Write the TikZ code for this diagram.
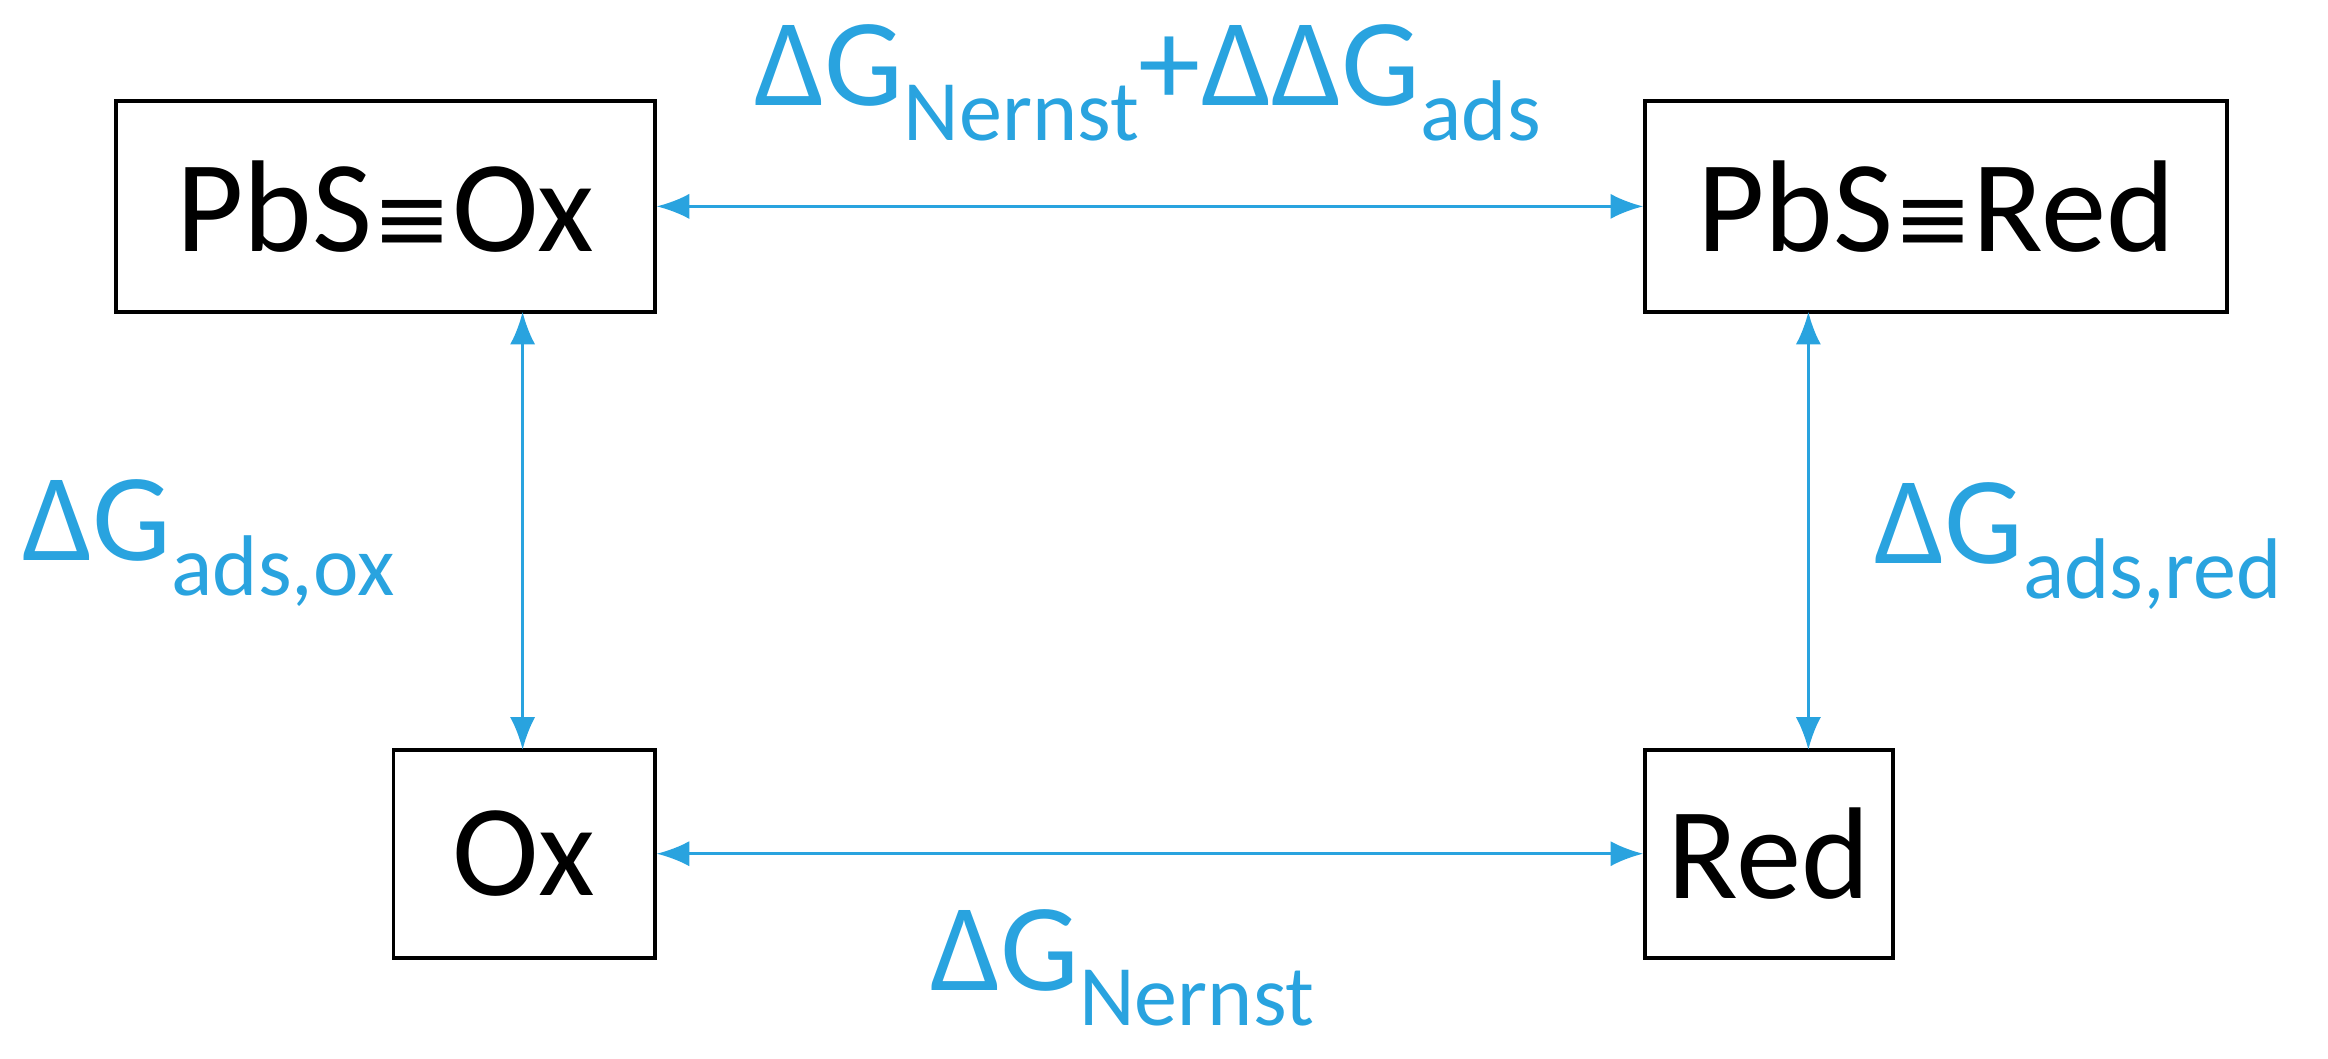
\documentclass[tikz,border=0pt]{standalone}
\usepackage{fontspec}
\setmainfont{Carlito}
\newfontfamily\dvs{DejaVu Sans}
\definecolor{lb}{HTML}{29A3DF}
\newcommand{\sbx}[1]{\raisebox{-0.28em}{\fontsize{58}{62}\selectfont #1}}
\begin{document}
\begin{tikzpicture}[x=1pt,y=-1pt,
  box/.style={draw,line width=2.5pt,inner sep=0pt,font=\fontsize{88}{92}\selectfont},
  arr/.style={lb,line width=2pt,{Latex[length=22pt,width=17pt]}-{Latex[length=22pt,width=17pt]}},
  lab/.style={lb,font=\fontsize{84}{88}\selectfont,inner sep=0pt}]
\usetikzlibrary{arrows.meta}
\useasboundingbox (0,0) rectangle (1568,713);
\node[box,minimum width=363pt,minimum height=142pt] (a) at (259.5,139) {PbS{\dvs\fontsize{64}{64}\selectfont≡}Ox};
\node[box,minimum width=392pt,minimum height=142pt] (b) at (1304,139) {PbS{\dvs\fontsize{64}{64}\selectfont≡}Red};
\node[box,minimum width=176pt,minimum height=140pt] (c) at (353,575) {Ox};
\node[box,minimum width=167pt,minimum height=140pt] (d) at (1191.5,575) {Red};
\coordinate (a1) at (352,210); \coordinate (c1) at (352,505);
\coordinate (b1) at (1218,210); \coordinate (d1) at (1218,505);
\draw[arr] (a.east) -- (b.west);
\draw[arr] (c.east) -- (d.west);
\draw[arr] (a1) -- (c1);
\draw[arr] (b1) -- (d1);
\node[lab] (t) at (773,56) {ΔG\sbx{Nernst}+ΔΔG\sbx{ads}};
\node[lab,anchor=west] (l) at (15,366) {ΔG\sbx{ads,ox}};
\node[lab,anchor=west] (r) at (1262,368) {ΔG\sbx{ads,red}};
\node[lab] (bt) at (756,652) {ΔG\sbx{Nernst}};
\end{tikzpicture}
\end{document}
